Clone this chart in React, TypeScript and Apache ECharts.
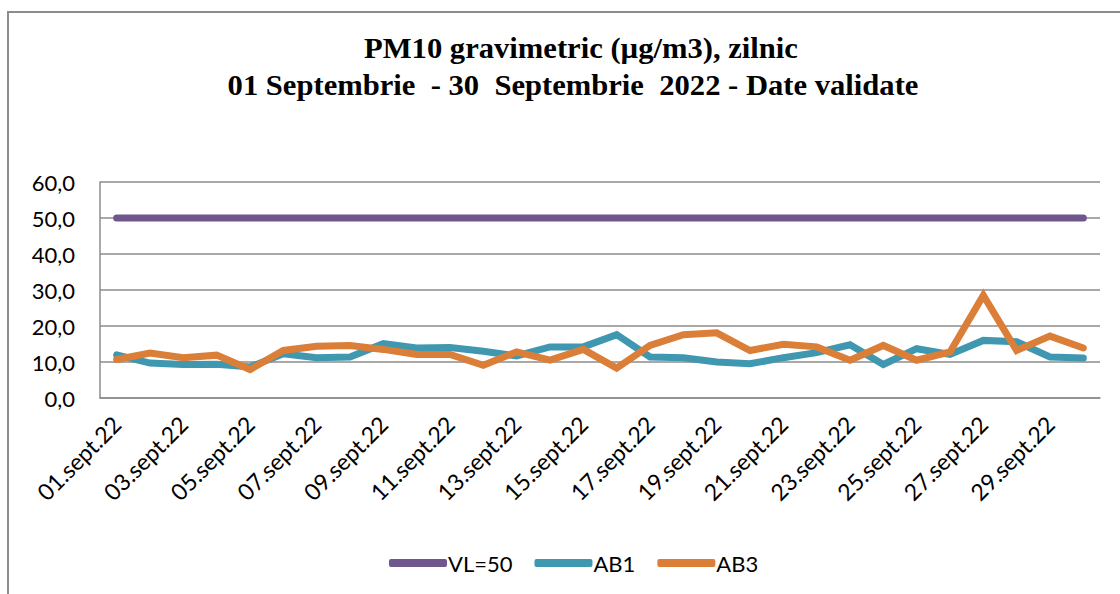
import React, { useEffect, useRef } from "react";
import * as echarts from "echarts";

const categories = [
  "01.sept.22", "02.sept.22", "03.sept.22", "04.sept.22", "05.sept.22",
  "06.sept.22", "07.sept.22", "08.sept.22", "09.sept.22", "10.sept.22",
  "11.sept.22", "12.sept.22", "13.sept.22", "14.sept.22", "15.sept.22",
  "16.sept.22", "17.sept.22", "18.sept.22", "19.sept.22", "20.sept.22",
  "21.sept.22", "22.sept.22", "23.sept.22", "24.sept.22", "25.sept.22",
  "26.sept.22", "27.sept.22", "28.sept.22", "29.sept.22", "30.sept.22",
];

const vl50 = [
  50, 50, 50, 50, 50, 50, 50, 50, 50, 50, 50, 50, 50, 50, 50,
  50, 50, 50, 50, 50, 50, 50, 50, 50, 50, 50, 50, 50, 50, 50,
];

const ab1 = [
  12.0, 9.7, 9.3, 9.4, 8.6, 12.3, 11.2, 11.4, 15.1, 13.9,
  14.0, 13.0, 11.7, 14.2, 14.2, 17.6, 11.4, 11.2, 10.0, 9.5,
  11.2, 12.6, 14.8, 9.3, 13.7, 12.1, 16.0, 15.6, 11.4, 11.1,
];

const ab3 = [
  10.7, 12.5, 11.2, 11.9, 7.9, 13.2, 14.4, 14.6, 13.5, 12.1,
  12.1, 9.1, 12.8, 10.5, 13.5, 8.3, 14.6, 17.6, 18.1, 13.2,
  14.9, 14.2, 10.5, 14.6, 10.5, 12.8, 28.5, 13.2, 17.2, 13.9,
];

const yTicks = ["0,0", "10,0", "20,0", "30,0", "40,0", "50,0", "60,0"];

const titleLines = [
  "PM10 gravimetric (µg/m3), zilnic",
  "01 Septembrie  - 30  Septembrie  2022 - Date validate",
];

const PURPLE = "#6F568D";
const TEAL = "#4098B0";
const ORANGE = "#DB7F38";
const GRID = "#8C8C8C";
const FONT = "Lato";

export default function App() {
  const ref = useRef<HTMLDivElement>(null);
  useEffect(() => {
    if (!ref.current) return;
    const chart = echarts.init(ref.current, undefined, { renderer: "svg" });
    const lineSeries = (name: string, data: number[], color: string, z: number) => ({
      name,
      type: "line",
      data,
      symbol: "none",
      z,
      lineStyle: { color, width: 7, cap: "round", join: "miter" },
      itemStyle: { color },
    });
    const titleStyle = {
      fontFamily: "Liberation Serif",
      fontWeight: "bold",
      fontSize: 30,
      fill: "#000",
      align: "center",
      verticalAlign: "middle",
    };
    chart.setOption({
      animation: false,
      backgroundColor: "#ffffff",
      textStyle: { fontFamily: FONT },
      graphic: [
        {
          type: "rect",
          shape: { x: 8, y: 12, width: 1300, height: 800 },
          style: { fill: "none", stroke: GRID, lineWidth: 2 },
          silent: true,
          z: -10,
        },
        {
          type: "text",
          x: 581,
          y: 48,
          scaleX: 1.02,
          style: { ...titleStyle, text: titleLines[0] },
        },
        {
          type: "text",
          x: 573,
          y: 85,
          scaleX: 1.02,
          style: { ...titleStyle, text: titleLines[1] },
        },
      ],
      grid: { left: 100, right: 20, top: 182, bottom: 196, containLabel: false },
      legend: {
        left: 384,
        top: 547,
        icon: "roundRect",
        itemWidth: 58,
        itemHeight: 8,
        itemGap: 22,
        textStyle: { fontFamily: FONT, fontSize: 22, color: "#000", padding: [0, 0, 0, -4] },
        data: ["VL=50", "AB1", "AB3"],
      },
      xAxis: {
        type: "category",
        data: categories,
        boundaryGap: true,
        axisLine: { show: true, lineStyle: { color: GRID, width: 1.5 } },
        axisTick: { show: false },
        axisLabel: {
          interval: 1,
          rotate: 45,
          fontFamily: FONT,
          fontSize: 23,
          color: "#000",
          margin: 22,
        },
      },
      yAxis: {
        type: "value",
        min: 0,
        max: 60,
        interval: 10,
        axisLine: { show: true, lineStyle: { color: GRID, width: 1.5 } },
        axisTick: { show: false },
        splitLine: { show: true, lineStyle: { color: GRID, width: 1.5 } },
        axisLabel: {
          fontFamily: FONT,
          fontSize: 22,
          color: "#000",
          margin: 25,
          formatter: (v: number) => yTicks[Math.round(v / 10)] ?? "",
        },
      },
      series: [
        lineSeries("VL=50", vl50, PURPLE, 3),
        lineSeries("AB1", ab1, TEAL, 4),
        lineSeries("AB3", ab3, ORANGE, 5),
      ],
    });
    return () => chart.dispose();
  }, []);
  return (
    <div
      ref={ref}
      style={{ position: "fixed", left: 0, top: 0, width: 1120, height: 594, background: "#fff" }}
    />
  );
}
